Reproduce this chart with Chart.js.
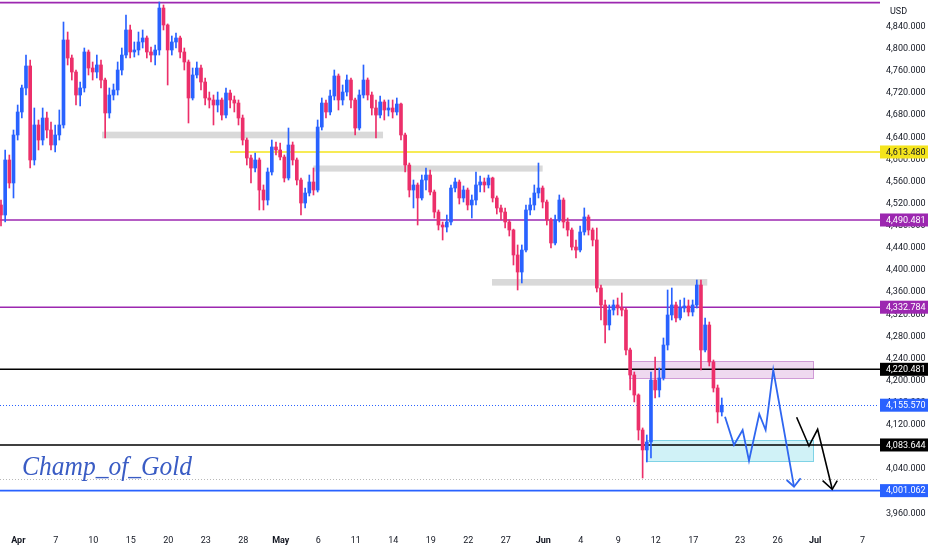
<!DOCTYPE html>
<html><head><meta charset="utf-8">
<script src="https://cdn.jsdelivr.net/npm/chart.js@4.4.1/dist/chart.umd.min.js"></script>
<style>html,body{margin:0;padding:0;background:#fff;}canvas{display:block;}</style>
</head><body>
<canvas id="c" width="932" height="550"></canvas>
<script>
// ---- x axis (trading days, Apr 1 = 0) ----
const tickDays = [0,3,6,9,12,15,18,21,24,27,30,33,36,39,42,45,48,51,54,57.75,60.75,63.75,67.55];
const tickLabels = ['Apr','7','10','15','20','23','28','May','6','11','14','19','22','27','Jun','4','9','12','17','23','26','Jul','7'];
const monthTicks = ['Apr','May','Jun','Jul'];
const priceTicks = [4840,4800,4760,4720,4680,4640,4600,4560,4520,4480,4440,4400,4360,4320,4280,4240,4200,4160,4120,4080,4040,4000,3960];

// ---- candles (4h-style, 3 per trading day) ----
const candleStartDay = -1.384;
const candlesPerDay = 3;
const opens = [
4517.6,4499.5,4599,4557.4,4644.2,4685.8,4729.2,4769,4599,4662.3,
4635.1,4674.9,4653.2,4626.1,4644.2,4662.3,4816,4783.4,4758.1,4716.5,
4729.2,4794.3,4765.3,4758.1,4770.8,4743.6,4684,4716.5,4725.6,4761.7,
4788.8,4834.1,4794.3,4797.9,4812.4,4819.6,4794.3,4788.8,4797.9,4873.8,
4843.1,4797.9,4812.4,4819.6,4794.3,4776.2,4711.1,4752.7,4765.3,4740,
4711.1,4707.5,4698.4,4707.5,4680.3,4720.1,4707.5,4702,4674.9,4635.1,
4602.6,4584.5,4599,4544.7,4526.6,4577.3,4622.5,4617.1,4604.4,4566.4,
4626.1,4599,4562.8,4521.2,4539.3,4559.2,4544.7,4658.6,4702,4685.8,
4714.7,4750.9,4707.5,4721.9,4743.6,4707.5,4656.8,4716.5,4743.6,4716.5,
4693,4680.3,4703.9,4689.4,4693,4685.8,4700.2,4644.2,4589.9,4544.7,
4553.8,4530.3,4562.8,4571.8,4541.1,4504.9,4481.4,4477.8,4486.9,4548.3,
4559.2,4530.3,4544.7,4517.6,4526.6,4553.8,4559.2,4553.8,4566.4,4530.3,
4512.2,4504.9,4486.9,4472.4,4427.2,4396.4,4436.2,4508.6,4517.6,4539.3,
4548.3,4523,4490.5,4448.9,4490.5,4526.6,4486.9,4472.4,4441.6,4436.2,
4468.8,4495.9,4472.4,4454.3,4367.5,4336.8,4300.6,4327.7,4336.8,4331.3,
4327.7,4255.4,4210.2,4174,4110.7,4074.6,4089,4201.1,4183.1,4204.8,
4264.4,4318.7,4336.8,4313.3,4331.3,4335,4324.1,4336.8,4372.9,4255.4,
4300.6,4233.7,4186.7,4143.3];
const highs = [
4526.6,4617.1,4608,4653.2,4698.4,4734.6,4788.8,4779.8,4693,4671.3,
4693,4685.8,4667.7,4662.3,4689.4,4848.5,4830.4,4788.8,4761.7,4740,
4801.5,4797.9,4776.2,4788.8,4779.8,4747.3,4729.2,4736.4,4776.2,4801.5,
4861.2,4843.1,4812.4,4830.4,4834.1,4823.2,4803.3,4806.9,4884.7,4879.3,
4845,4823.2,4828.6,4823.2,4801.5,4779.8,4765.3,4776.2,4770.8,4747.3,
4721.9,4716.5,4721.9,4711.1,4729.2,4725.6,4714.7,4707.5,4680.3,4638.8,
4608,4611.6,4602.6,4553.8,4584.5,4635.1,4631.5,4629.7,4608,4656.8,
4631.5,4602.6,4566.4,4548.3,4571.8,4584.5,4671.3,4711.1,4707.5,4725.6,
4761.7,4754.5,4734.6,4752.7,4747.3,4711.1,4725.6,4770.8,4747.3,4721.9,
4707.5,4714.7,4707.5,4707.5,4707.5,4711.1,4702,4647.8,4593.5,4562.8,
4557.4,4571.8,4584.5,4580.9,4544.7,4508.6,4486.9,4499.5,4553.8,4566.4,
4562.8,4552,4548.3,4535.7,4577.3,4570,4566.4,4571.8,4568,4533.9,
4517.6,4512.2,4490.5,4474,4445.3,4445.3,4517.6,4530.3,4553.8,4593.5,
4552,4526.6,4494.1,4499.5,4535.7,4530.3,4494.1,4476,4454.3,4479.6,
4512.2,4499.5,4476,4476,4372.9,4345.8,4336.8,4345.8,4349.4,4358.5,
4331.3,4259,4215.6,4176,4114.4,4101.7,4215.6,4242.7,4222.8,4277.1,
4363.9,4367.5,4342.2,4345.8,4349.4,4345.8,4345.8,4382,4382,4313.3,
4306,4237.3,4192.1,4168.6];
const lows = [
4479.6,4486.9,4548.3,4530.3,4635.1,4674.9,4716.5,4584.5,4589.9,4617.1,
4626.1,4638.8,4617.1,4613.4,4635.1,4656.8,4770.8,4743.6,4698.4,4696.6,
4721.9,4752.7,4743.6,4747.3,4729.2,4638.8,4674.9,4707.5,4716.5,4752.7,
4783.4,4783.4,4785.2,4788.8,4801.5,4783.4,4776.2,4770.8,4788.8,4834.1,
4734.6,4788.8,4801.5,4783.4,4761.7,4665.9,4707.5,4747.3,4725.6,4698.4,
4693,4662.3,4685.8,4671.3,4674.9,4693,4685.8,4662.3,4626.1,4589.9,
4557.4,4577.3,4508.6,4508.6,4517.6,4571.8,4608,4599,4559.2,4562.8,
4589.9,4553.8,4499.5,4512.2,4533.9,4535.7,4541.1,4653.2,4674.9,4680.3,
4707.5,4689.4,4698.4,4714.7,4693,4644.2,4653.2,4711.1,4707.5,4680.3,
4638.8,4674.9,4671.3,4678.5,4674.9,4680.3,4635.1,4577.3,4532.1,4512.2,
4481.4,4526.6,4544.7,4535.7,4494.1,4472.4,4454.3,4468.8,4481.4,4541.1,
4519.4,4523,4508.6,4494.1,4517.6,4541.1,4541.1,4548.3,4523,4501.3,
4490.5,4476,4461.5,4409.1,4363.9,4376.6,4432.6,4499.5,4508.6,4530.3,
4512.2,4481.4,4439.8,4445.3,4486.9,4476,4461.5,4436.2,4421.8,4432.6,
4463.3,4463.3,4443.5,4360.3,4309.6,4268.1,4291.6,4318.7,4318.7,4316.9,
4246.3,4183.1,4161.4,4092.6,4023.9,4052.9,4060.1,4168.6,4170.4,4201.1,
4255.4,4309.6,4306,4309.6,4324.1,4316.9,4316.9,4331.3,4219.2,4251.8,
4226.5,4179.4,4123.4,4136];
const closes = [
4499.5,4599,4557.4,4644.2,4685.8,4729.2,4769,4599,4662.3,4635.1,
4674.9,4653.2,4626.1,4644.2,4662.3,4816,4783.4,4758.1,4716.5,4729.2,
4794.3,4765.3,4758.1,4770.8,4743.6,4684,4716.5,4725.6,4761.7,4788.8,
4834.1,4794.3,4797.9,4812.4,4819.6,4794.3,4788.8,4797.9,4873.8,4843.1,
4797.9,4812.4,4819.6,4794.3,4776.2,4711.1,4752.7,4765.3,4740,4711.1,
4707.5,4698.4,4707.5,4680.3,4720.1,4707.5,4702,4674.9,4635.1,4602.6,
4584.5,4599,4544.7,4526.6,4577.3,4622.5,4617.1,4604.4,4566.4,4626.1,
4599,4562.8,4521.2,4539.3,4559.2,4544.7,4658.6,4702,4685.8,4714.7,
4750.9,4707.5,4721.9,4743.6,4707.5,4656.8,4716.5,4743.6,4716.5,4693,
4680.3,4703.9,4689.4,4693,4685.8,4700.2,4644.2,4589.9,4544.7,4553.8,
4530.3,4562.8,4571.8,4541.1,4504.9,4481.4,4477.8,4486.9,4548.3,4559.2,
4530.3,4544.7,4517.6,4526.6,4553.8,4559.2,4553.8,4566.4,4530.3,4512.2,
4504.9,4486.9,4472.4,4427.2,4396.4,4436.2,4508.6,4517.6,4539.3,4548.3,
4523,4490.5,4448.9,4490.5,4526.6,4486.9,4472.4,4441.6,4436.2,4468.8,
4495.9,4472.4,4454.3,4367.5,4336.8,4300.6,4327.7,4336.8,4331.3,4327.7,
4255.4,4210.2,4174,4110.7,4074.6,4089,4201.1,4183.1,4204.8,4264.4,
4318.7,4336.8,4313.3,4331.3,4335,4324.1,4336.8,4372.9,4255.4,4300.6,
4233.7,4186.7,4143.3,4155.57];

// ---- horizontal levels ----
const levelValues = [4883.5, 4613.48, 4490.481, 4332.784, 4220.481, 4083.644, 4001.062];
const levelColors = ['#9c27b0', '#f4e41c', '#9c27b0', '#9c27b0', '#000000', '#000000', '#2962ff'];
const levelStartDay = [null, 16.94, null, null, null, null, null];
const levelHasLabel = [false, true, true, true, true, true, true];
const levelTextColors = ['#fff', '#131722', '#fff', '#fff', '#fff', '#fff', '#fff'];
const lastPrice = 4155.57;
const dottedGrayLevel = 4021.6;

// ---- zones ----
const zoneStartDay = [6.7, 23.6, 37.9, 48.88, 50.32];
const zoneEndDay   = [29.18, 41.95, 55.12, 63.6, 63.6];
const zoneTop      = [4650.2, 4589.0, 4383.8, 4235.5, 4092.1];
const zoneBottom   = [4638.2, 4578.0, 4371.8, 4204.2, 4054.6];
const zoneFill     = ['#d9d9d9', '#d9d9d9', '#d9d9d9', 'rgba(225,185,228,0.55)', 'rgba(170,232,240,0.55)'];
const zoneBorder   = [null, null, null, '#cf9ad6', '#7fd3e6'];

// ---- projections ----
const blueProjDays   = [56.54, 57.26, 57.95, 58.46, 59.28, 59.79, 60.40, 62.06];
const blueProjPrices = [4134.8, 4083.6, 4110.7, 4055.2, 4139.7, 4110.7, 4219.2, 4008.2];
const blueArrowDays   = [61.47, 62.06, 62.59];
const blueArrowPrices = [4020.3, 4008.2, 4023.4];
const blackProjDays   = [62.27, 63.26, 63.95, 65.12];
const blackProjPrices = [4133.7, 4081.8, 4112.0, 4003.5];
const blackArrowDays   = [64.35, 65.12, 65.52];
const blackArrowPrices = [4019.0, 4003.5, 4019.0];

const UP = '#2962ff', DOWN = '#ec2f6a';
const fmt = v => v.toLocaleString('en-US', {minimumFractionDigits: 3, maximumFractionDigits: 3});

const candleDays = opens.map((_, i) => candleStartDay + i / candlesPerDay);
const candleColors = opens.map((o, i) => closes[i] >= o ? UP : DOWN);
const bodies = opens.map((o, i) => ({x: candleDays[i], y: [Math.min(o, closes[i]), Math.max(o, closes[i])]}));
const wicks = opens.map((o, i) => ({x: candleDays[i], y: [lows[i], highs[i]]}));
const pts = (xs, ys) => xs.map((x, i) => ({x: x, y: ys[i]}));

const overlay = {
  id: 'overlay',
  beforeDatasetsDraw(chart) {
    const {ctx, chartArea: a, scales: {x, y}} = chart;
    ctx.save();
    zoneStartDay.forEach((s, i) => {
      const x1 = x.getPixelForValue(s), x2 = x.getPixelForValue(zoneEndDay[i]);
      const y1 = y.getPixelForValue(zoneTop[i]), y2 = y.getPixelForValue(zoneBottom[i]);
      ctx.fillStyle = zoneFill[i];
      ctx.fillRect(x1, y1, x2 - x1, y2 - y1);
      if (zoneBorder[i]) {
        ctx.strokeStyle = zoneBorder[i]; ctx.lineWidth = 1;
        ctx.strokeRect(Math.round(x1) + 0.5, Math.round(y1) + 0.5, Math.round(x2 - x1), Math.round(y2 - y1));
      }
    });
    ctx.setLineDash([1, 2]); ctx.lineWidth = 1;
    [[lastPrice, '#2962ff'], [dottedGrayLevel, '#b8b8b8']].forEach(([v, c]) => {
      const py = Math.round(y.getPixelForValue(v)) + 0.5;
      ctx.strokeStyle = c; ctx.beginPath(); ctx.moveTo(a.left, py); ctx.lineTo(a.right, py); ctx.stroke();
    });
    ctx.setLineDash([]);
    levelValues.forEach((v, i) => {
      const py = y.getPixelForValue(v);
      const sx = levelStartDay[i] === null ? a.left : x.getPixelForValue(levelStartDay[i]);
      ctx.strokeStyle = levelColors[i]; ctx.lineWidth = 1.6;
      ctx.beginPath(); ctx.moveTo(sx, py); ctx.lineTo(a.right + 2, py); ctx.stroke();
    });
    ctx.restore();
  },
  afterDraw(chart) {
    const {ctx, chartArea: a, scales: {y}} = chart;
    ctx.save();
    ctx.font = '9px Roboto';
    ctx.textBaseline = 'middle';
    ctx.textAlign = 'left';
    const drawLabel = (v, bg, fg) => {
      const py = y.getPixelForValue(v);
      ctx.fillStyle = bg;
      ctx.fillRect(a.right + 2, py - 6.5, 48, 13);
      ctx.fillStyle = fg;
      ctx.fillText(fmt(v), a.right + 8, py + 0.5);
    };
    levelValues.forEach((v, i) => { if (levelHasLabel[i]) drawLabel(v, levelColors[i], levelTextColors[i]); });
    drawLabel(lastPrice, '#2962ff', '#fff');
    ctx.fillStyle = '#131722';
    ctx.fillText('USD', a.right + 12, 12);
    ctx.font = 'italic 27px "Liberation Serif"';
    ctx.fillStyle = '#3a5cc4';
    ctx.textBaseline = 'alphabetic';
    const txt = 'Champ_of_Gold';
    const w = ctx.measureText(txt).width;
    ctx.translate(22, 475);
    ctx.scale(170 / w, 1);
    ctx.fillText(txt, 0, 0);
    ctx.restore();
  }
};

Chart.defaults.font.family = 'Roboto';
Chart.defaults.color = '#131722';

const zeroPad = s => { s.paddingTop = 0; s.paddingBottom = 0; s.paddingLeft = 0; s.paddingRight = 0; };

new Chart(document.getElementById('c'), {
  type: 'bar',
  data: {
    datasets: [
      {type: 'line', data: pts(blueProjDays, blueProjPrices), borderColor: '#2f66f0', borderWidth: 1.8, pointRadius: 0, tension: 0, fill: false, order: 0},
      {type: 'line', data: pts(blueArrowDays, blueArrowPrices), borderColor: '#2f66f0', borderWidth: 1.8, pointRadius: 0, tension: 0, fill: false, order: 0},
      {type: 'line', data: pts(blackProjDays, blackProjPrices), borderColor: '#000000', borderWidth: 1.6, pointRadius: 0, tension: 0, fill: false, order: 0},
      {type: 'line', data: pts(blackArrowDays, blackArrowPrices), borderColor: '#000000', borderWidth: 1.6, pointRadius: 0, tension: 0, fill: false, order: 0},
      {data: bodies, backgroundColor: candleColors, barThickness: 3, minBarLength: 1, grouped: false, order: 1},
      {data: wicks, backgroundColor: candleColors, barThickness: 1, grouped: false, order: 2}
    ]
  },
  options: {
    responsive: false,
    animation: false,
    events: [],
    layout: {padding: 0},
    plugins: {legend: {display: false}, tooltip: {enabled: false}},
    scales: {
      x: {
        type: 'linear', offset: false,
        min: -1.464, max: 68.78,
        grid: {display: false, drawTicks: false}, border: {display: false},
        afterBuildTicks: s => { s.ticks = tickDays.map(v => ({value: v})); },
        afterFit: s => { s.height = 22; zeroPad(s); },
        ticks: {
          autoSkip: false, maxRotation: 0, padding: 7,
          callback: (v, i) => tickLabels[i],
          font: c => ({family: 'Roboto', size: 9, weight: monthTicks.includes(tickLabels[c.index]) ? 'bold' : 'normal'})
        }
      },
      y: {
        type: 'linear', position: 'right',
        min: 3933.5, max: 4888.3,
        grid: {display: false, drawTicks: false}, border: {display: false},
        afterBuildTicks: s => { s.ticks = priceTicks.map(v => ({value: v})); },
        afterFit: s => { s.width = 54; zeroPad(s); },
        ticks: {padding: 8, font: {family: 'Roboto', size: 9}, callback: v => fmt(v)}
      }
    }
  },
  plugins: [overlay]
});
</script>
</body></html>
